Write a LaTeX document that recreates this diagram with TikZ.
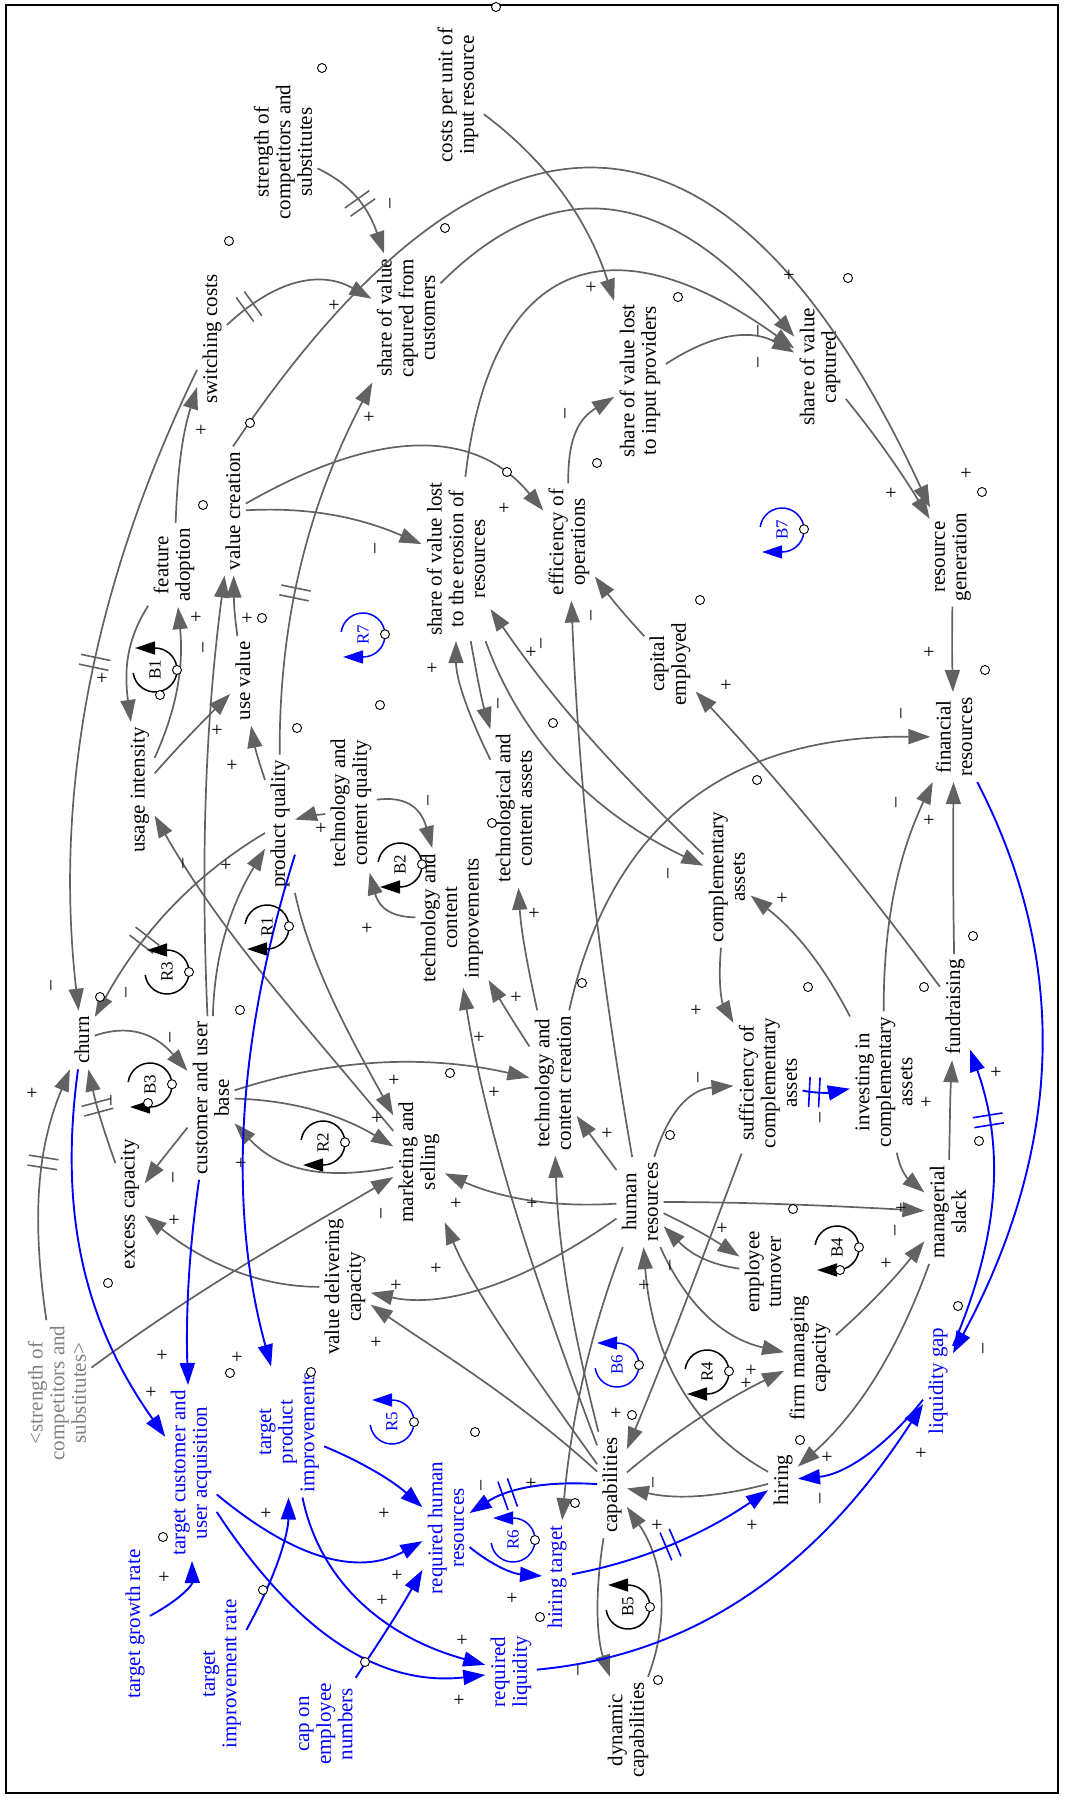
\documentclass[tikz,border=0pt]{standalone}
\usepackage{fontspec}
\setmainfont{Liberation Serif}
\usetikzlibrary{arrows.meta,calc,decorations.markings}

\definecolor{lk}{RGB}{98,98,98}
\definecolor{bl}{RGB}{0,0,255}
\definecolor{gt}{RGB}{128,128,128}

\tikzset{
  var/.style={rotate=90, align=center, inner sep=2.5pt, font=\fontsize{10.5pt}{10.8pt}\selectfont},
  bvar/.style={var, text=bl},
  g/.style={color=lk, line width=0.85pt, -{Triangle[length=11pt,width=7.5pt]}},
  b/.style={color=bl, line width=0.95pt, -{Triangle[length=11pt,width=7.5pt]}},
  dly/.style={postaction={decorate}, decoration={markings, mark=at position #1 with
      {\draw[-, line width=0.8pt] (-2.5pt,-7.5pt) -- (-2.5pt,7.5pt) (2.5pt,-7.5pt) -- (2.5pt,7.5pt);}}},
  pol/.style={rotate=90, inner sep=0pt, font=\fontsize{10pt}{10pt}\selectfont},
  oc/.style={circle, draw=black, fill=white, line width=0.45pt, inner sep=0pt, minimum size=4.5pt},
  looplab/.style={rotate=90, inner sep=0pt, font=\fontsize{8.5pt}{8.5pt}\selectfont},
}

% curved link through a middle point: [style]{from}{to}{start}{middle}{end}
\newcommand\lnk[6][g]{%
  \coordinate (qS) at (#4);
  \coordinate (qE) at (#6);
  \coordinate (qH) at ($(qS)!0.5!(qE)$);
  \coordinate (qQ) at ($(qH)!2!(#5)$);
  \draw[#1] (#2) .. controls ($(qS)!0.6667!(qQ)$) and ($(qE)!0.6667!(qQ)$) .. (#3);}

\newcounter{plc}
\newcommand\polp[2]{\stepcounter{plc}\node[pol] (p\arabic{plc}) at (#1,#2) {+};}
\newcommand\polm[2]{\stepcounter{plc}\node[pol] (p\arabic{plc}) at (#1,#2) {\textendash};}
\newcounter{omc}
\newcommand\om[2]{\stepcounter{omc}\node[oc] (o\arabic{omc}) at (#1,#2) {};}

% loop markers: {name}{centre}{label}{colour}
\newcommand\loopcw[4]{%
  \node[looplab, text=#4] (#1) at (#2) {#3};
  \begin{scope}[shift={(#2)}, x=1pt, y=1pt]
    \draw[#4, line width=0.75pt, -{Triangle[length=10pt,width=6.5pt]}]
      (172:11) arc[start angle=172, end angle=-90, radius=11] -- ++(-10,0);
    \node[oc] (#1o) at (2:11) {};
  \end{scope}}
\newcommand\loopccw[4]{%
  \node[looplab, text=#4] (#1) at (#2) {#3};
  \begin{scope}[shift={(#2)}, x=1pt, y=1pt]
    \draw[#4, line width=0.75pt, -{Triangle[length=10pt,width=6.5pt]}]
      (188:11) arc[start angle=188, end angle=450, radius=11] -- ++(-10,0);
    \node[oc] (#1o) at (0:11) {};
  \end{scope}}

\begin{document}
\begin{tikzpicture}[x=0.5pt, y=-0.5pt]
\useasboundingbox (0,0) rectangle (1065,1798);
\draw[line width=1pt] (6,5) rectangle (1058,1793);

% ---------------- variables ----------------
\node[var] (scs) at (283,152) {strength of\\competitors and\\substitutes};
\node[var] (swc) at (212,339) {switching costs};
\node[var] (cpu) at (458,95) {costs per unit of\\input resource};
\node[var] (svc) at (406,318) {share of value\\captured from\\customers};
\node[var] (svi) at (640,381) {share of value lost\\to input providers};
\node[var] (svt) at (820,367) {share of value\\captured};
\node[var] (rgn) at (953,557) {resource\\generation};
\node[var] (fin) at (954,737) {financial\\resources};
\node[var] (vcr) at (233,511) {value creation};
\node[var] (fad) at (174,565) {feature\\adoption};
\node[var] (uvl) at (243,681) {use value};
\node[var] (uin) at (140,790) {usage intensity};
\node[var] (pq)  at (280,824) {product quality};
\node[var] (tcq) at (351,803) {technology and\\content quality};
\node[var] (sve) at (456,559) {share of value lost\\to the erosion of\\resources};
\node[var] (eff) at (569,542) {efficiency of\\operations};
\node[var] (cap) at (670,664) {capital\\employed};
\node[var] (tca) at (514,808) {technological and\\content assets};
\node[var] (tci) at (452,918) {technology and\\content\\improvements};
\node[var] (cpa) at (727,877) {complementary\\assets};
\node[var] (chu) at (82,1040) {churn};
\node[var] (cub) at (211,1098) {customer and user\\base};
\node[var] (exc) at (130,1204) {excess capacity};
\node[var] (mks) at (419,1162) {marketing and\\selling};
\node[var] (tcc) at (553,1083) {technology and\\content creation};
\node[var] (hr)  at (640,1202) {human\\resources};
\node[var] (vdc) at (345,1287) {value delivering\\capacity};
\node[var] (suf) at (768,1083) {sufficiency of\\complementary\\assets};
\node[var] (inv) at (884,1082) {investing in\\complementary\\assets};
\node[var] (fun) at (955,1007) {fundraising};
\node[var] (mgs) at (948,1212) {managerial\\slack};
\node[var] (emt) at (763,1272) {employee\\turnover};
\node[var] (fmc) at (810,1358) {firm managing\\capacity};
\node[var] (hir) at (783,1480) {hiring};
\node[bvar] (liq) at (938,1381) {liquidity gap};
\node[var] (cab) at (612,1485) {capabilities};
\node[bvar] (hit) at (557,1577) {hiring target};
\node[bvar] (rhr) at (446,1528) {required human\\resources};
\node[bvar] (rql) at (511,1672) {required\\liquidity};
\node[var] (dyc) at (628,1730) {dynamic\\capabilities};
\node[bvar] (tcu) at (191,1473) {target customer and\\user acquisition};
\node[bvar] (tpi) at (289,1432) {target\\product\\improvements};
\node[bvar] (tgr) at (135,1624) {target growth rate};
\node[bvar] (tir) at (222,1674) {target\\improvement rate};
\node[bvar] (cen) at (326,1724) {cap on\\employee\\numbers};
\node[var, text=gt] (ghs) at (57,1393) {<strength of\\competitors and\\substitutes>};

% ---------------- grey links ----------------
\lnk[g,dly=.5]{scs}{svc}{322,170}{355,193}{386,228}
\lnk[g,dly=.18]{swc}{svc}{229,313}{298,281}{363,288}
\lnk{vcr.east}{rgn}{245,418}{610,165}{950,492}
\lnk{cpu}{svi}{496,120}{565,195}{620,297}
\lnk{svc}{svt}{445,267}{610,205}{788,302}
\lnk{sve}{svt}{437,470}{565,278}{790,325}
\lnk{svi}{svt}{678,350}{735,335}{790,348}
\lnk{svt}{rgn}{848,398}{885,449}{922,500}
\lnk{rgn}{fin}{952,623}{952,646}{952,670}
\lnk[g,dly=.42]{pq}{svc}{273,728}{300,560}{363,388}
\lnk{uin}{fad}{160,753}{178,690}{185,625}
\lnk{fad}{uin}{143,610}{128,650}{123,695}
\lnk{uin}{uvl}{160,763}{192,732}{223,700}
\lnk{pq}{uvl}{257,760}{255,748}{253,735}
\lnk{uvl}{vcr}{238,640}{235,618}{232,597}
\lnk{cub}{vcr}{207,1010}{205,800}{217,600}
\lnk{vcr}{eff}{250,492}{420,445}{537,502}
\lnk{vcr}{sve}{250,508}{330,514}{403,535}
\lnk[g,dly=.64]{pq}{chu}{258,833}{172,905}{100,997}
\lnk{mks}{uin}{395,1100}{265,975}{160,845}
\lnk{chu}{cub}{100,1037}{140,1033}{180,1058}
\lnk[g,dly=.6]{exc}{chu}{108,1147}{99,1115}{90,1083}
\lnk[g,dly=.62]{ghs}{chu}{37,1283}{38,1180}{60,1083}
\lnk{cub}{exc}{180,1137}{164,1157}{148,1177}
\lnk{vdc}{exc}{313,1287}{233,1270}{150,1220}
\lnk{cub}{tcc}{240,1085}{380,1062}{522,1073}
\lnk{cub}{mks}{240,1097}{315,1110}{388,1140}
\lnk{mks}{cub}{370,1175}{300,1170}{240,1135}
\lnk{ghs}{mks}{110,1337}{249,1260}{388,1183}
\lnk{pq}{mks}{270,890}{330,1000}{388,1103}
\lnk{tcq}{tci}{380,798}{410,803}{432,823}
\lnk{tci}{tcq}{410,920}{387,912}{368,897}
\lnk{tcc}{tci}{522,1035}{507,1011}{493,987}
\lnk{tcc}{tca}{530,983}{523,940}{517,897}
\lnk{tca}{sve}{472,730}{460,688}{453,645}
\lnk{sve}{tca}{468,643}{478,685}{483,723}
\lnk{sve}{cpa}{485,643}{565,770}{697,862}
\lnk{cpa}{sve}{693,848}{590,740}{507,643}
\lnk{hr}{eff}{622,1135}{590,880}{563,622}
\lnk{cap}{eff}{638,632}{618,607}{598,583}
\lnk{fun}{cap}{933,968}{818,828}{703,688}
\lnk{inv}{fin}{877,987}{893,888}{922,788}
\lnk{fun}{fin}{953,937}{953,867}{953,797}
\lnk{tcc}{fin}{563,982}{690,797}{925,730}
\lnk{inv}{cpa}{843,995}{805,945}{758,900}
\lnk{cpa}{suf}{713,970}{720,995}{727,1020}
\lnk{hr}{suf}{658,1133}{685,1100}{727,1087}
\lnk{mgs}{fun}{950,1140}{950,1109}{950,1078}
\lnk{hr}{mgs}{670,1198}{794,1204}{918,1210}
\lnk{suf}{cab}{732,1177}{684,1307}{635,1437}
\lnk{inv}{mgs}{893,1160}{903,1173}{913,1187}
\lnk{fmc}{mgs}{838,1337}{878,1296}{918,1255}
\lnk{mgs}{hir}{918,1278}{872,1380}{800,1455}
\lnk{hr}{emt}{670,1215}{702,1233}{733,1252}
\lnk{emt}{hr}{733,1267}{702,1258}{675,1238}
\lnk{hr}{fmc}{660,1262}{710,1320}{775,1352}
\lnk{hir}{hr}{762,1470}{680,1390}{628,1262}
\lnk{cab}{fmc}{632,1477}{700,1420}{777,1383}
\lnk{hir}{cab}{762,1487}{700,1497}{635,1500}
\lnk{hr}{hit}{612,1245}{582,1370}{552,1497}
\lnk{cab}{dyc}{595,1557}{597,1620}{607,1680}
\lnk{dyc}{cab}{657,1678}{662,1590}{637,1507}
\lnk{cab}{vdc}{590,1440}{480,1376}{375,1312}
\lnk{hr}{vdc}{610,1235}{483,1290}{373,1300}
\lnk{cab}{mks}{595,1440}{505,1330}{453,1242}
\lnk{hr}{mks}{610,1202}{530,1200}{448,1177}
\lnk{cab}{tci}{600,1438}{515,1210}{462,1018}
\lnk{cab}{tcc}{605,1438}{570,1300}{555,1180}
\lnk{hr}{tcc}{608,1158}{595,1141}{583,1125}
\lnk[g,dly=.47]{swc}{chu}{190,373}{88,690}{77,998}
\lnk{fad}{swc}{173,505}{180,452}{187,403}
\lnk{eff}{svi}{562,465}{575,430}{597,410}
\lnk{cub}{pq}{207,1005}{225,930}{257,858}
\lnk{tcq}{pq}{335,814}{316,815}{297,815}

% ---------------- blue links ----------------
\lnk[b]{chu}{tcu}{73,1080}{80,1260}{143,1412}
\lnk[b]{cub}{tcu}{195,1180}{188,1280}{185,1373}
\lnk[b]{pq.-154}{tpi}{320,857}{248,1110}{265,1372}
\lnk[b,dly=.25]{suf}{inv}{800,1093}{821,1093}{843,1093}
\lnk[b,dly=.76]{liq}{fun}{968,1323}{995,1190}{977,1062}
\lnk[b]{fin}{liq}{985,790}{1043,1060}{960,1352}
\lnk[b]{liq}{hir}{920,1415}{860,1460}{802,1477}
\lnk[b,dly=.48]{hit}{hir}{575,1573}{670,1545}{762,1495}
\lnk[b]{rql}{liq}{542,1668}{745,1598}{915,1425}
\lnk[b,dly=.68]{cab}{rhr}{592,1485}{530,1487}{477,1505}
\lnk[b]{rhr}{hit}{475,1558}{505,1570}{535,1577}
\lnk[b]{tgr}{tcu}{163,1605}{185,1590}{197,1563}
\lnk[b]{tcu}{rhr}{230,1518}{330,1560}{415,1545}
\lnk[b]{tcu}{rql}{228,1563}{350,1655}{482,1678}
\lnk[b]{tpi}{rhr}{313,1447}{370,1470}{415,1503}
\lnk[b]{tpi}{rql}{297,1492}{360,1600}{482,1662}
\lnk[b]{tir}{tpi}{263,1610}{282,1550}{288,1493}
\lnk[b]{cen}{rhr}{362,1665}{388,1628}{413,1590}

% ---------------- loop markers ----------------
\loopccw{B1}{155,670}{B1}{black}
\loopcw{B2}{400,865}{B2}{black}
\loopcw{B3}{150,1085}{B3}{black}
\loopcw{B4}{837,1248}{B4}{black}
\loopccw{B5}{628,1607}{B5}{black}
\loopccw{B6}{617,1365}{B6}{bl}
\loopcw{B7}{782,530}{B7}{bl}
\loopcw{R1}{267,927}{R1}{black}
\loopcw{R2}{323,1143}{R2}{black}
\loopccw{R3}{167,972}{R3}{black}
\loopcw{R4}{707,1372}{R4}{black}
\loopccw{R5}{392,1422}{R5}{bl}
\loopccw{R6}{513,1540}{R6}{bl}
\loopcw{R7}{363,635}{R7}{bl}

% ---------------- link polarities ----------------
\polp{335}{305} \polp{202}{430} \polm{392}{203} \polp{592}{287} \polp{370}{417}
\polm{567}{413} \polp{790}{275} \polm{760}{330} \polm{760}{362} \polp{103}{678}
\polp{197}{617} \polm{205}{647} \polp{248}{618} \polp{218}{730} \polp{233}{765}
\polp{322}{828} \polm{185}{863} \polp{227}{865} \polp{505}{508} \polm{377}{548}
\polm{593}{615} \polp{433}{668} \polp{532}{652} \polm{543}{643} \polm{500}{703}
\polm{430}{800} \polm{670}{873} \polp{892}{493} \polp{967}{473} \polp{930}{652}
\polp{727}{685} \polm{903}{713} \polm{898}{802} \polp{930}{820} \polp{783}{898}
\polm{53}{985} \polm{128}{992} \polm{172}{1037} \polp{33}{1093} \polm{113}{1100}
\polm{175}{1177} \polp{175}{1220} \polp{242}{1163} \polp{368}{928} \polp{517}{997}
\polp{535}{913} \polp{480}{1037} \polp{395}{1080} \polp{495}{1092} \polp{378}{1118}
\polm{383}{1213} \polp{457}{1203} \polp{533}{1203} \polp{608}{1133} \polm{700}{1077}
\polp{697}{1010} \polp{437}{1268} \polp{397}{1285} \polp{377}{1342} \polp{645}{1285}
\polm{672}{1265} \polp{997}{1072} \polp{927}{1102} \polm{822}{1117} \polp{723}{1228}
\polm{897}{1230} \polp{887}{1263} \polp{902}{1208} \polm{985}{1348} \polp{163}{1355}
\polp{152}{1392} \polp{238}{1357} \polp{267}{1513} \polp{165}{1577} \polm{483}{1485}
\polp{532}{1483} \polp{617}{1413} \polm{655}{1482} \polp{658}{1525} \polp{385}{1513}
\polp{398}{1575} \polp{383}{1600} \polp{463}{1640} \polp{460}{1700} \polp{513}{1598}
\polm{580}{1670} \polp{752}{1370} \polp{747}{1383} \polp{828}{1457} \polm{822}{1498}
\polp{753}{1525} \polp{922}{1453}

% ---------------- small circle marks ----------------
\om{322}{68} \om{229}{241} \om{250}{423} \om{496}{7} \om{445}{228} \om{678}{297}
\om{848}{278} \om{203}{505} \om{262}{618} \om{297}{728} \om{160}{695} \om{507}{472}
\om{597}{463} \om{700}{600} \om{380}{705} \om{553}{723} \om{492}{823} \om{982}{492}
\om{985}{670} \om{757}{780} \om{100}{997} \om{240}{1010} \om{148}{1103} \om{108}{1283}
\om{450}{1073} \om{582}{983} \om{670}{1135} \om{808}{987} \om{924}{987} \om{973}{936}
\om{979}{1141} \om{793}{1209} \om{840}{1270} \om{958}{1306} \om{230}{1373} \om{311}{1372}
\om{163}{1537} \om{263}{1590} \om{365}{1662} \om{475}{1432} \om{632}{1415} \om{575}{1503}
\om{540}{1617} \om{658}{1680} \om{800}{1440}
\end{tikzpicture}
\end{document}
